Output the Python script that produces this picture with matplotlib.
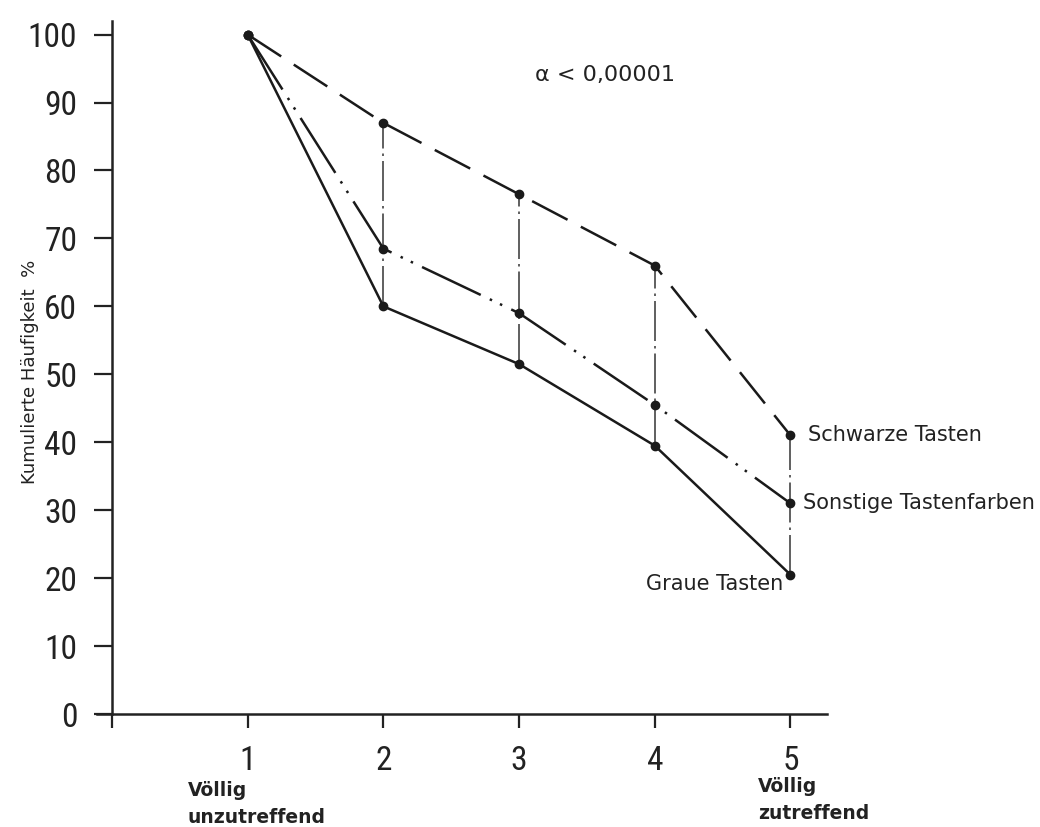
import matplotlib
matplotlib.use("Agg")
import matplotlib.pyplot as plt
from matplotlib import font_manager

categories = [1, 2, 3, 4, 5]
schwarze = [100, 87, 76.5, 66, 41]
sonstige = [100, 68.5, 59, 45.5, 31]
graue = [100, 60, 51.5, 39.5, 20.5]
yticks = [0, 10, 20, 30, 40, 50, 60, 70, 80, 90, 100]

names = {f.name for f in font_manager.fontManager.ttflist}
cond = None
for cand in ["Liberation Sans Narrow", "DejaVu Sans Condensed", "Roboto Condensed", "Open Sans Condensed"]:
    if cand in names:
        cond = cand
        break

fig = plt.figure(figsize=(10.4, 8.27), dpi=100)
ax = fig.add_axes([0.0933, 0.1366, 0.702, 0.838])
ax.set_xlim(-0.11, 5.27)
ax.set_ylim(0, 102)

for s in ["top", "right"]:
    ax.spines[s].set_visible(False)
ax.spines["left"].set_position(("data", 0))
ax.spines["left"].set_bounds(0, 102)
for s in ["left", "bottom"]:
    ax.spines[s].set_linewidth(1.8)
    ax.spines[s].set_color("#222222")

if cond:
    num_font = dict(family=cond, size=24)
else:
    num_font = dict(family="DejaVu Sans", size=22, stretch="condensed")
ax.set_yticks(yticks)
ax.set_yticklabels([str(v) for v in yticks], fontdict=num_font, color="#222222")
ax.set_xticks([0] + categories)
ax.set_xticklabels([""] + [str(c) for c in categories], fontdict=num_font, color="#222222")
ax.tick_params(axis="y", direction="out", length=13, width=1.6, pad=12, color="#222222")
ax.tick_params(axis="x", direction="out", length=10, width=1.6, pad=12, color="#222222")

lc = "#1a1a1a"
# vertical connectors
for i in range(1, len(categories)):
    ax.plot([categories[i], categories[i]], [graue[i], schwarze[i]],
            color="#444444", lw=1.2, linestyle=(0, (24, 3, 1.5, 3)), zorder=1)

ax.plot(categories, graue, color=lc, lw=1.8, marker="o", ms=6, zorder=3)
ax.plot(categories, sonstige, color=lc, lw=1.8, marker="o", ms=6,
        linestyle=(0, (26, 4, 1, 3.5, 1, 4)), zorder=3)
ax.plot(categories, schwarze, color=lc, lw=1.8, marker="o", ms=6,
        linestyle=(0, (16, 6)), zorder=3)

lab_font = dict(family="DejaVu Sans", size=15, color="#222222")
ax.text(5.13, schwarze[-1], "Schwarze Tasten", ha="left", va="center", clip_on=False, **lab_font)
ax.text(5.09, sonstige[-1], "Sonstige Tastenfarben", ha="left", va="center", clip_on=False, **lab_font)
ax.text(4.95, graue[-1] - 1.3, "Graue Tasten", ha="right", va="center", clip_on=False, **lab_font)

ax.text(3.12, 94, "α < 0,00001", ha="left", va="center", fontsize=16,
        family="DejaVu Sans", color="#222222")

bot_font = dict(family="DejaVu Sans", size=13.5, weight="bold", color="#222222")
ax.text(0.56, -9.8, "Völlig\nunzutreffend", ha="left", va="top", linespacing=1.55,
        clip_on=False, **bot_font)
ax.text(4.76, -9.3, "Völlig\nzutreffend", ha="left", va="top", linespacing=1.55,
        clip_on=False, **bot_font)

fig.text(0.029, 0.55, "Kumulierte Häufigkeit  %", rotation=90, ha="center", va="center",
         fontsize=13, family="DejaVu Sans", color="#222222")

fig.savefig("out.png", dpi=100, facecolor="white")
